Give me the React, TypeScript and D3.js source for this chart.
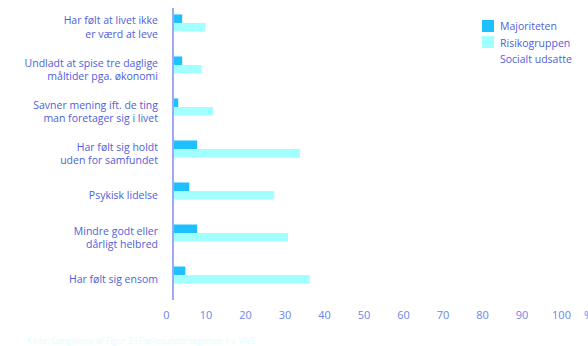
import React from "react";
import * as d3 from "d3";

const categories: string[][] = [
  ["Har følt at livet ikke", "er værd at leve"],
  ["Undladt at spise tre daglige", "måltider pga. økonomi"],
  ["Savner mening ift. de ting", "man foretager sig i livet"],
  ["Har følt sig holdt", "uden for samfundet"],
  ["Psykisk lidelse"],
  ["Mindre godt eller", "dårligt helbred"],
  ["Har følt sig ensom"],
];
const majoriteten = [2.2, 2.2, 1.2, 6.0, 4.0, 6.0, 3.0];
const risikogruppen = [8.1, 7.1, 10.0, 32.0, 25.5, 29.0, 34.5];
const seriesNames = ["Majoriteten", "Risikogruppen", "Socialt udsatte"];
const seriesColors = ["#1ec0ff", "#a2ffff", "none"];
const tickValues = [0, 10, 20, 30, 40, 50, 60, 70, 80, 90, 100];
const sourceText = "Kilde: Gengivelse af Figur 2 i Fællesundersøgelsen fra VIVE.";

export default function App() {
  const W = 588;
  const H = 346;
  const x = d3.scaleLinear().domain([0, 100]).range([173.5, 568.5]);
  const y = d3
    .scaleBand<number>()
    .domain(categories.map((_, i) => i))
    .range([8, 300])
    .paddingInner(0.39)
    .paddingOuter(0.17)
    .align(0.45);
  const sub = d3.scaleBand<number>().domain([0, 1, 2]).range([0, y.bandwidth()]);
  const series = [majoriteten, risikogruppen];
  const textColor = "#5060d8";
  const tickColor = "#6c84ec";
  const font = "'Open Sans', sans-serif";
  const step = y.step();

  return (
    <div style={{ position: "absolute", left: 0, top: 0 }}>
      <svg width={W} height={H} style={{ display: "block" }}>
        <rect width={W} height={H} fill="#ffffff" />
        {series.map((vals, s) =>
          vals.map((v, i) => (
            <rect
              key={`${s}-${i}`}
              x={x(0)}
              y={(y(i) as number) + (sub(s) as number)}
              width={x(v) - x(0)}
              height={sub.bandwidth()}
              fill={seriesColors[s]}
            />
          ))
        )}
        <line x1={173} x2={173} y1={8} y2={300} stroke="#9fa8f2" strokeWidth={2} />
        {categories.map((lines, i) => {
          const cy = (y(i) as number) - (step - y.bandwidth()) / 2 + step / 2;
          const lh = 13.5;
          return (
            <text
              key={i}
              x={158}
              textAnchor="end"
              fontFamily={font}
              fontSize={10.5}
              fill={textColor}
            >
              {lines.map((l, j) => (
                <tspan
                  key={j}
                  x={158}
                  y={cy + (j - (lines.length - 1) / 2) * lh}
                  dominantBaseline="central"
                >
                  {l}
                </tspan>
              ))}
            </text>
          );
        })}
        {tickValues.map((t) => (
          <text
            key={t}
            x={x(t) - 7}
            y={314}
            textAnchor="middle"
            dominantBaseline="central"
            fontFamily={font}
            fontSize={11}
            fill={tickColor}
          >
            {t}
          </text>
        ))}
        <text x={584} y={314} dominantBaseline="central" fontFamily={font} fontSize={11} fill={tickColor}>
          %
        </text>
        {seriesNames.map((n, i) => (
          <g key={n}>
            {seriesColors[i] !== "none" && (
              <rect x={482} y={20 + i * 16} width={12} height={12} fill={seriesColors[i]} />
            )}
            <text
              x={500}
              y={26 + i * 16.5}
              dominantBaseline="central"
              fontFamily={font}
              fontSize={10.5}
              fill={textColor}
            >
              {n}
            </text>
          </g>
        ))}
        <text x={27} y={340} dominantBaseline="central" fontFamily={font} fontSize={8.5} fill="#e4fdff">
          {sourceText}
        </text>
      </svg>
    </div>
  );
}
